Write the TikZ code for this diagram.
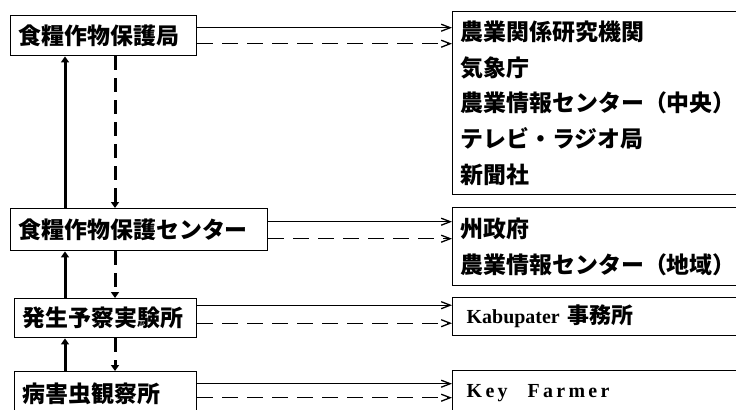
\documentclass[tikz,border=0pt]{standalone}
\usepackage{fontspec}
\setmainfont{Liberation Serif}
\newfontfamily\cjk{Noto Sans CJK JP}
\usetikzlibrary{arrows.meta}
\tikzset{
  box/.style={draw, line width=1.4bp, anchor=north west, inner xsep=8bp, inner ysep=0pt,
    align=left, font=\cjk\bfseries\fontsize{23}{36}\selectfont},
  conn/.style={line width=1.3bp, -{Straight Barb[length=9bp,width=7bp]}},
  dconn/.style={conn, dash pattern=on 16bp off 9bp},
  vconn/.style={line width=3bp, -{Triangle[length=6bp,width=8bp]}},
  dvconn/.style={vconn, dash pattern=on 14bp off 8bp},
}
\begin{document}
\begin{tikzpicture}[x=1bp,y=-1bp]
\useasboundingbox (0,0) rectangle (736,409);
\clip (0,0) rectangle (736,409);
\fill[white] (0,0) rectangle (736,409);
% left column
\node[box, text width=170bp, minimum height=40bp] (b1) at (10,15) {食糧作物保護局};
\node[box, text width=241bp, minimum height=42bp] (b2) at (10,208) {食糧作物保護センター};
\node[box, text width=166bp, minimum height=39bp] (b3) at (14,298) {発生予察実験所};
\node[box, text width=166bp, minimum height=44bp] (b4) at (14,371) {病害虫観察所};
% right column
\node[box, text width=277bp, minimum height=183bp] (r1) at (452,11)
  {農業関係研究機関\\気象庁\\農業情報センター（中央）\\テレビ・ラジオ局\\新聞社};
\node[box, text width=277bp, minimum height=78bp] (r2) at (452,207)
  {州政府\\農業情報センター（地域）};
\node[box, text width=277bp, minimum height=38bp] (r3) at (452,297)
  {\hspace*{6bp}{\rmfamily\fontsize{20}{22}\selectfont Kabupater} {\fontsize{22}{24}\selectfont 事務所}};
\node[box, text width=277bp, minimum height=44bp] (r4) at (452,370)
  {\hspace*{6bp}{\rmfamily\fontsize{20}{22}\selectfont K\,e\,y\quad F\,a\,r\,m\,e\,r}};
% verticals
\coordinate (xs) at (65,0);
\coordinate (xd) at (115,0);
\draw[vconn] (b2.north -| xs) -- (b1.south -| xs);
\draw[dvconn] (b1.south -| xd) -- (b2.north -| xd);
\draw[vconn] (b3.north -| xs) -- (b2.south -| xs);
\draw[dvconn] (b2.south -| xd) -- (b3.north -| xd);
\draw[vconn] (b4.north -| xs) -- (b3.south -| xs);
\draw[dvconn] (b3.south -| xd) -- (b4.north -| xd);
% horizontals
\draw[conn] ([yshift=8bp]b1.east) -- ([yshift=8bp]b1.east -| r1.west);
\draw[dconn] ([yshift=-8bp]b1.east) -- ([yshift=-8bp]b1.east -| r1.west);
\draw[conn] ([yshift=8bp]b2.east) -- ([yshift=8bp]b2.east -| r2.west);
\draw[dconn] ([yshift=-9bp]b2.east) -- ([yshift=-9bp]b2.east -| r2.west);
\draw[conn] ([yshift=13bp]b3.east) -- ([yshift=13bp]b3.east -| r3.west);
\draw[dconn] ([yshift=-5bp]b3.east) -- ([yshift=-5bp]b3.east -| r3.west);
\draw[conn] ([yshift=10bp]b4.east) -- ([yshift=10bp]b4.east -| r4.west);
\draw[dconn] ([yshift=-4bp]b4.east) -- ([yshift=-4bp]b4.east -| r4.west);
\end{tikzpicture}
\end{document}
